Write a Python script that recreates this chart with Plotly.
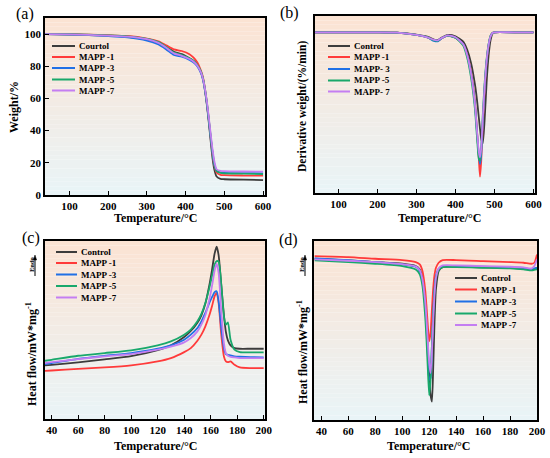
import plotly.graph_objects as go

W, H = 550, 458
SERIF = "Liberation Serif"
COLORS = ["#3c3c3c", "#ff3a3a", "#2070e6", "#18a86b", "#c47ef2"]

# ---- (a) TGA ----
tga_temp = [35, 100, 150, 200, 250, 300, 330, 350, 370, 390, 410, 420, 430, 440, 445,
            450, 455, 460, 465, 470, 475, 480, 490, 500, 550, 600]
tga_control = [100, 99.8, 99.4, 99.0, 98.3, 96.5, 94.5, 92.0, 89.0, 87.5, 85.0, 83.5, 81.0, 76.0, 72.0,
               65.0, 56.0, 45.0, 33.0, 22.0, 15.0, 11.5, 10.0, 9.8, 9.5, 9.3]
tga_mapp1 = [100, 99.9, 99.6, 99.3, 98.8, 97.2, 95.5, 93.0, 90.5, 89.5, 87.5, 85.5, 82.5, 77.0, 73.0,
             66.0, 57.0, 46.5, 35.0, 24.5, 17.5, 14.0, 12.5, 12.3, 12.1, 12.0]
tga_mapp3 = [100, 99.7, 99.3, 98.8, 98.0, 96.0, 93.5, 90.5, 87.0, 86.0, 84.0, 82.5, 80.0, 75.5, 71.5,
             65.0, 56.5, 46.0, 35.0, 25.0, 18.0, 15.0, 14.0, 13.8, 13.6, 13.5]
tga_mapp5 = [100, 99.9, 99.6, 99.2, 98.6, 97.0, 95.0, 92.0, 88.5, 87.0, 85.0, 83.5, 81.0, 76.5, 72.5,
             66.0, 57.5, 47.0, 36.0, 26.0, 18.5, 15.0, 13.8, 13.5, 13.3, 13.0]
tga_mapp7 = [100, 99.8, 99.5, 99.0, 98.4, 96.8, 94.5, 91.5, 88.0, 86.5, 84.5, 83.0, 80.5, 76.0, 72.0,
             66.0, 58.0, 48.0, 37.5, 27.5, 20.0, 16.0, 15.0, 14.8, 14.6, 14.5]
tga_names = ["Courtol", "MAPP -1", "MAPP -3", "MAPP -5", "MAPP -7"]

# ---- (b) DTG ----
dtg_temp = [35, 100, 200, 250, 300, 330, 345, 355, 365, 380, 400, 420, 430, 440, 450, 455,
            460, 463, 466, 470, 475, 480, 485, 490, 495, 500, 550, 600]
dtg_control = [0, 0, 0, -0.05, -0.35, -0.7, -1.1, -1.15, -0.8, -0.4, -0.6, -1.4, -2.6, -4.6, -7.8, -10.0,
               -12.8, -14.5, -16.0, -16.7, -13.0, -7.5, -3.5, -1.2, -0.2, 0, 0, 0]
dtg_mapp1 = [0, 0, 0, -0.05, -0.4, -0.8, -1.2, -1.3, -0.9, -0.5, -0.8, -1.8, -3.3, -6.0, -10.5, -14.5,
             -19.0, -21.7, -19.5, -14.0, -8.5, -4.5, -2.0, -0.6, -0.1, 0, 0, 0]
dtg_mapp3 = [0, 0, 0, -0.05, -0.4, -0.8, -1.3, -1.35, -0.9, -0.5, -0.8, -1.8, -3.4, -6.2, -10.8, -14.8,
             -18.5, -19.8, -18.5, -13.5, -8.0, -4.3, -1.9, -0.6, -0.1, 0, 0, 0]
dtg_mapp5 = [0, 0, 0, -0.05, -0.4, -0.8, -1.2, -1.25, -0.85, -0.5, -0.8, -2.0, -3.8, -6.8, -11.5, -15.5,
             -19.0, -19.3, -17.5, -12.5, -7.5, -4.0, -1.8, -0.5, -0.1, 0, 0, 0]
dtg_mapp7 = [0, 0, 0, -0.05, -0.4, -0.8, -1.15, -1.2, -0.85, -0.45, -0.75, -1.8, -3.4, -6.2, -10.8, -14.6,
             -18.0, -18.8, -17.5, -13.0, -8.0, -4.2, -1.9, -0.6, -0.1, 0, 0, 0]
dtg_names = ["Control", "MAPP -1", "MAPP- 3", "MAPP -5", "MAPP- 7"]

# ---- (c) DSC heating ----
heat_temp = [35, 40, 60, 80, 100, 120, 130, 140, 145, 150, 153, 156, 159, 161, 163, 164.5,
             166, 168, 170, 171.5, 173, 175, 178, 182, 190, 200]
heat_control = [16.0, 16.2, 16.9, 17.8, 18.8, 20.6, 22.0, 24.5, 26.3, 28.8, 31.0, 34.5, 40.0, 44.5, 49.5, 51.5,
                49.0, 40.0, 31.0, 26.0, 23.5, 22.0, 21.2, 21.0, 21.0, 21.0]
heat_mapp1 = [14.4, 14.5, 15.0, 15.4, 16.0, 17.2, 18.2, 20.0, 21.2, 23.4, 25.2, 27.7, 31.0, 33.7, 36.7, 37.7,
              34.7, 25.2, 18.7, 17.2, 17.0, 17.2, 16.2, 15.4, 15.2, 15.2]
heat_mapp3 = [16.4, 16.7, 18.0, 18.9, 19.7, 21.0, 22.0, 23.7, 25.2, 27.2, 29.2, 31.7, 34.7, 36.4, 37.9, 38.2,
              35.2, 27.2, 21.2, 19.4, 19.2, 19.0, 18.7, 18.6, 18.5, 18.4]
heat_mapp5 = [17.4, 17.7, 18.9, 19.7, 20.5, 22.0, 23.2, 25.2, 26.7, 29.2, 31.4, 34.7, 39.2, 42.7, 46.2, 47.2,
              47.0, 40.2, 30.7, 28.2, 28.9, 23.7, 20.7, 20.0, 19.9, 19.9]
heat_mapp7 = [16.7, 17.0, 17.9, 18.7, 19.4, 20.7, 21.6, 22.9, 24.2, 26.2, 28.2, 31.0, 35.7, 39.7, 44.4, 46.4,
              43.7, 32.2, 22.7, 19.7, 18.9, 18.6, 18.4, 18.2, 18.2, 18.2]
dsc_names = ["Control", "MAPP -1", "MAPP -3", "MAPP -5", "MAPP -7"]

# ---- (d) DSC cooling ----
cool_temp = [35, 60, 80, 100, 110, 113, 115, 117, 118, 119, 120, 121, 122, 123, 124, 125,
             127, 130, 140, 160, 180, 190, 196, 198, 200]
cool_control = [48.2, 47.7, 47.2, 46.7, 46.0, 45.0, 42.5, 35.0, 29.0, 21.0, 13.0, 7.5, 5.5, 16.0, 30.0, 39.0,
                44.5, 45.7, 45.8, 45.6, 45.5, 45.2, 45.0, 45.2, 45.5]
cool_mapp1 = [49.0, 48.7, 48.2, 47.8, 47.2, 46.5, 44.5, 39.0, 34.0, 28.0, 23.5, 26.0, 33.0, 39.5, 43.5, 45.5,
              47.0, 47.8, 47.8, 47.5, 47.2, 47.0, 46.7, 47.0, 49.5]
cool_mapp3 = [48.3, 47.8, 47.2, 46.5, 45.8, 44.5, 41.5, 34.0, 27.5, 19.0, 12.0, 12.5, 22.0, 32.0, 39.5, 43.0,
              45.2, 45.9, 45.9, 45.8, 45.6, 45.4, 45.1, 45.3, 45.5]
cool_mapp5 = [47.7, 47.2, 46.7, 46.0, 45.0, 43.5, 40.0, 31.0, 24.0, 15.0, 7.4, 12.0, 22.0, 32.0, 39.0, 42.5,
              44.8, 45.7, 45.7, 45.5, 45.3, 45.0, 44.7, 44.9, 45.0]
cool_mapp7 = [48.0, 47.6, 47.2, 46.6, 45.9, 44.8, 42.0, 35.5, 30.0, 23.0, 17.0, 14.0, 20.0, 30.0, 38.0, 42.5,
              45.3, 46.2, 46.2, 46.0, 45.8, 45.6, 45.3, 46.0, 48.0]


def px(x):
    return x / W


def py(y):
    return 1 - y / H


fig = go.Figure()

panels = [
    ("", tga_temp, [tga_control, tga_mapp1, tga_mapp3, tga_mapp5, tga_mapp7], tga_names),
    ("2", dtg_temp, [dtg_control, dtg_mapp1, dtg_mapp3, dtg_mapp5, dtg_mapp7], dtg_names),
    ("3", heat_temp, [heat_control, heat_mapp1, heat_mapp3, heat_mapp5, heat_mapp7], dsc_names),
    ("4", cool_temp, [cool_control, cool_mapp1, cool_mapp3, cool_mapp5, cool_mapp7], dsc_names),
]

for idx, temps, series, names in panels:
    for ys, name, color in zip(series, names, COLORS):
        fig.add_trace(go.Scatter(x=temps, y=ys, name=name, mode="lines", showlegend=False,
                                 line=dict(color=color, width=1.8, shape="spline", smoothing=0.6),
                                 xaxis="x" + idx, yaxis="y" + idx))

# plot area boxes in pixels: (left, top, right, bottom)
boxes = [(45, 18, 265, 195), (315, 16, 535, 193), (45, 241, 265, 419), (314, 241, 537, 420)]
xranges = [[37, 605], [40, 604], [35, 201], [34.5, 200]]
yranges = [[0, 110], [-24.15, 2.45], [0, 53.2], [0, 53.5]]

tickfont = dict(family=SERIF, size=11, color="black", weight="bold")
axis_common = dict(showline=True, linecolor="black", linewidth=1.5, mirror=True, showgrid=False,
                   zeroline=False, ticks="inside", ticklen=4, tickcolor="black", tickwidth=1.2,
                   tickfont=tickfont, automargin=False, fixedrange=True)

layout_axes = {}
for i, (box, xr, yr) in enumerate(zip(boxes, xranges, yranges)):
    n = "" if i == 0 else str(i + 1)
    l, t, r, b = box
    xa = dict(axis_common, domain=[px(l), px(r)], range=xr, anchor="y" + n)
    if i < 2:
        xa.update(tickvals=[100, 200, 300, 400, 500, 600])
    else:
        xa.update(tickvals=[40, 60, 80, 100, 120, 140, 160, 180, 200])
    ya = dict(axis_common, domain=[py(b), py(t)], range=yr, anchor="x" + n)
    if i == 0:
        ya.update(tickvals=[0, 20, 40, 60, 80, 100])
    else:
        ya.update(showticklabels=False, ticks="")
    layout_axes["xaxis" + n] = xa
    layout_axes["yaxis" + n] = ya

# peach-to-blue background bands
top_c = (251, 227, 211)
bot_c = (233, 244, 247)
nb = 40
shapes = []
for i, (l, t, r, b) in enumerate(boxes):
    for k in range(nb):
        f = k / (nb - 1)
        c = tuple(int(round(top_c[j] + (bot_c[j] - top_c[j]) * f)) for j in range(3))
        y0 = t + (b - t) * k / nb
        y1 = t + (b - t) * (k + 1) / nb
        shapes.append(dict(type="rect", xref="paper", yref="paper", x0=px(l), x1=px(r),
                           y0=py(y1), y1=py(y0), line=dict(width=0),
                           fillcolor="rgb(%d,%d,%d)" % c, layer="below"))

annotations = []


def note(text, x, y, size=12, angle=0, bold=True, anchor="center"):
    f = dict(family=SERIF, size=size, color="black")
    if bold:
        f["weight"] = "bold"
    annotations.append(dict(text=text, x=px(x), y=py(y), xref="paper", yref="paper",
                            showarrow=False, textangle=angle, font=f,
                            xanchor=anchor, yanchor="middle"))


for lab, x, y in [("(a)", 25, 14), ("(b)", 289, 13), ("(c)", 31, 238), ("(d)", 288, 240)]:
    note(lab, x, y, size=16, bold=False)

note("Temperature/°C", 155, 218)
note("Temperature/°C", 439, 218)
note("Temperature/°C", 155, 446)
note("Temperature/°C", 428, 446)
note("Weight/%", 14, 107, angle=-90)
note("Derivative weight/(%/min)", 303, 107, size=11.5, angle=-90)
note("Heat flow/mW*mg<sup>-1</sup>", 31, 354, angle=-90)
note("Heat flow/mW*mg<sup>-1</sup>", 302, 352, angle=-90)

# Endo markers: rotated label with an upward arrow beside it
for x, y in [(31, 265), (301, 265)]:
    note("Endo", x, y, size=6.5, angle=-90)
    ax = x + 4
    shapes.append(dict(type="line", xref="paper", yref="paper", x0=px(ax), x1=px(ax),
                       y0=py(y + 11), y1=py(y - 7), line=dict(color="black", width=1)))
    shapes.append(dict(type="path", xref="paper", yref="paper", fillcolor="black",
                       line=dict(color="black", width=0.5),
                       path="M %f %f L %f %f L %f %f Z" % (px(ax), py(y - 10), px(ax - 1.6), py(y - 5),
                                                           px(ax + 1.6), py(y - 5))))

# hand-placed legends (line sample + label)
legends = [
    (tga_names, 52, 75, 77, [46, 57, 68, 79.5, 90.5]),
    (dtg_names, 328, 350, 352, [46, 57, 69, 80.5, 91.5]),
    (dsc_names, 56, 77, 79, [252, 263, 274.5, 286, 297.5]),
    (dsc_names, 455, 477, 479, [278, 289.5, 301.5, 313.5, 325]),
]
for names, x0, x1, xt, rows in legends:
    for name, color, yy in zip(names, COLORS, rows):
        shapes.append(dict(type="line", xref="paper", yref="paper", x0=px(x0), x1=px(x1),
                           y0=py(yy), y1=py(yy), line=dict(color=color, width=2)))
        note(name, xt, yy, size=9, anchor="left")

fig.update_layout(
    width=W, height=H,
    margin=dict(l=0, r=0, t=0, b=0),
    paper_bgcolor="white",
    plot_bgcolor="white",
    showlegend=False,
    shapes=shapes,
    annotations=annotations,
    **layout_axes,
)

# drop the default page margin so the figure sits at the window's top-left corner
fig.write_html("out.html", config={"displayModeBar": False},
               post_script="document.body.style.margin='0';")
